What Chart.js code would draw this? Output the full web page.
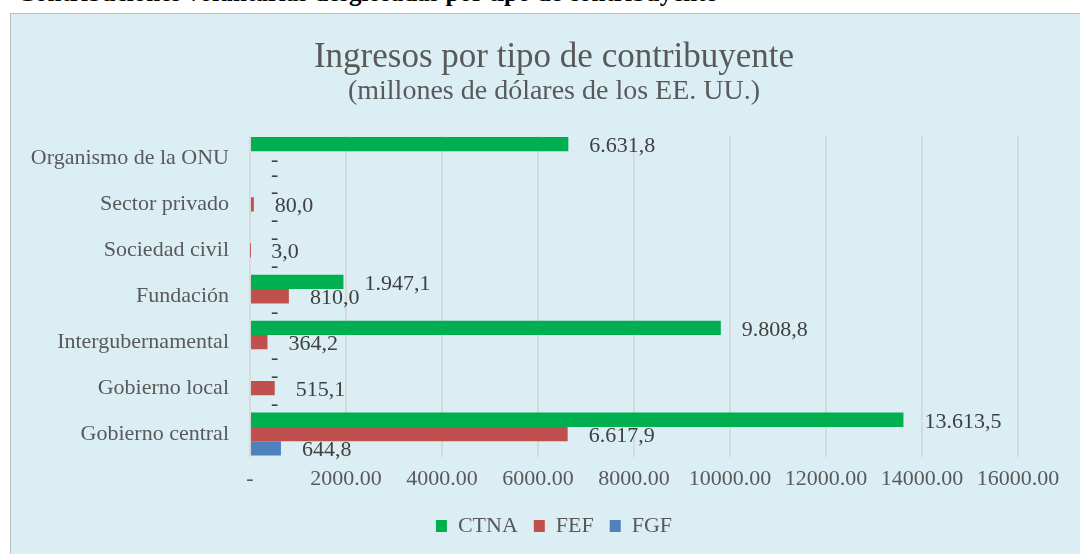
<!DOCTYPE html>
<html>
<head>
<meta charset="utf-8">
<script src="https://cdn.jsdelivr.net/npm/chart.js@4.4.0/dist/chart.umd.min.js"></script>
<style>
  html, body { margin: 0; padding: 0; background: #fff; overflow: hidden; }
  #caption {
    position: absolute; left: 17px; top: -20px; white-space: nowrap;
    font: bold 25px/25px "Liberation Serif", serif; color: #000;
  }
  #box {
    position: absolute; left: 10px; top: 13px; width: 1080px; height: 560px;
    background: #DAEEF3; border: 1px solid #bfbfbf;
  }
  #wrap { position: absolute; left: 0; top: 0; width: 1108px; height: 554px; }
</style>
</head>
<body>
<div id="caption">Contribuciones voluntarias desglosadas por tipo de contribuyente</div>
<div id="box"></div>
<div id="wrap"><canvas id="chart"></canvas></div>
<script>
// data (millones de USD)
const categories = ["Organismo de la ONU", "Sector privado", "Sociedad civil", "Fundación",
                    "Intergubernamental", "Gobierno local", "Gobierno central"];
const ctna = [6631.8, 0, 0, 1947.1, 9808.8, 0, 13613.5];
const fef  = [0, 80.0, 3.0, 810.0, 364.2, 515.1, 6617.9];
const fgf  = [0, 0, 0, 0, 0, 0, 644.8];
const xTicks = [0, 2000, 4000, 6000, 8000, 10000, 12000, 14000, 16000];

const serif = "'Liberation Serif', 'Times New Roman', serif";

// 13613.5 -> "13.613,5", 0 -> "-"
function fmtEs(v) {
    if (v === 0) return "-";
    let parts = v.toFixed(1).split(".");
    let ent = parts[0].replace(/\B(?=(\d{3})+(?!\d))/g, ".");
    return ent + "," + parts[1];
}

const valueLabels = {
    id: "valueLabels",
    afterDatasetsDraw(chart) {
        const ctx = chart.ctx;
        ctx.save();
        ctx.font = "22px " + serif;
        ctx.fillStyle = "#404040";
        ctx.textAlign = "left";
        ctx.textBaseline = "middle";
        chart.data.datasets.forEach((ds, i) => {
            chart.getDatasetMeta(i).data.forEach((bar, j) => {
                ctx.fillText(fmtEs(ds.data[j]), bar.x + 21, bar.y + 2);
            });
        });
        ctx.restore();
    }
};

new Chart(document.getElementById("chart"), {
    type: "bar",
    data: {
        labels: categories,
        datasets: [
            { label: "CTNA", data: ctna, backgroundColor: "#00B050" },
            { label: "FEF", data: fef, backgroundColor: "#C0504D" },
            { label: "FGF", data: fgf, backgroundColor: "#4F81BD" }
        ]
    },
    options: {
        indexAxis: "y",
        responsive: true,
        maintainAspectRatio: false,
        animation: false,
        layout: { padding: { left: 0, right: 0, top: 0, bottom: 7 } },
        datasets: { bar: { categoryPercentage: 0.933, barPercentage: 1.0 } },
        scales: {
            x: {
                min: 0, max: 16000,
                afterBuildTicks: (axis) => { axis.ticks = xTicks.map(v => ({ value: v })); },
                afterFit: (axis) => { axis.height = 42; },
                grid: { color: "#d9d9d9", lineWidth: 2, drawTicks: false },
                border: { display: false },
                ticks: {
                    padding: 9,
                    color: "#595959",
                    font: { family: serif, size: 22 },
                    maxRotation: 0,
                    callback: (v) => v === 0 ? "-" : Number(v).toFixed(2)
                }
            },
            y: {
                afterFit: (axis) => { axis.width = 250; },
                grid: { display: false, drawTicks: false },
                border: { display: false },
                ticks: {
                    autoSkip: false,
                    padding: 21,
                    color: "#595959",
                    font: { family: serif, size: 22 }
                }
            },
            // empty spacer on the right so title and legend centre like the original
            spacer: {
                type: "category",
                position: "right",
                display: true,
                afterFit: (axis) => { axis.width = 90; },
                grid: { display: false, drawTicks: false },
                border: { display: false },
                ticks: { display: false }
            }
        },
        plugins: {
            title: {
                display: true,
                text: "Ingresos por tipo de contribuyente",
                color: "#595959",
                font: { family: serif, size: 35, weight: "normal", lineHeight: 1.0 },
                padding: { top: 40.5, bottom: 0 }
            },
            subtitle: {
                display: true,
                text: "(millones de dólares de los EE. UU.)",
                color: "#595959",
                font: { family: serif, size: 28, weight: "normal", lineHeight: 1.0 },
                padding: { top: 2.5, bottom: 29.5 }
            },
            legend: {
                position: "bottom",
                labels: {
                    boxWidth: 11,
                    boxHeight: 12,
                    padding: 16,
                    color: "#595959",
                    font: { family: serif, size: 22 }
                }
            },
            tooltip: { enabled: false }
        }
    },
    plugins: [valueLabels]
});
</script>
</body>
</html>
